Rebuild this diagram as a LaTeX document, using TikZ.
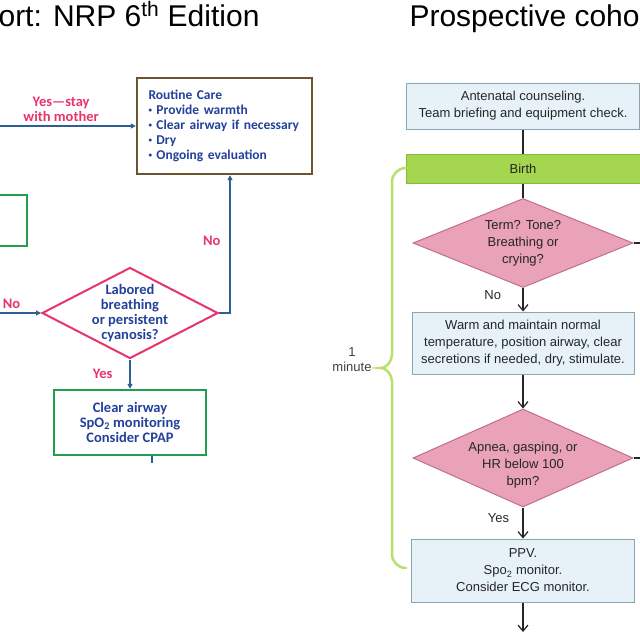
\documentclass[tikz,border=0pt]{standalone}
\usepackage{fontspec}
\setmainfont{Liberation Sans}
\newfontfamily\calibfont{Carlito}
\usetikzlibrary{shapes.geometric,arrows.meta}

\definecolor{nrpblue}{HTML}{23419A}
\definecolor{nrpstroke}{HTML}{2F5F91}
\definecolor{nrppink}{HTML}{E8336B}
\definecolor{nrpbrown}{HTML}{6B5430}
\definecolor{nrpgreen}{HTML}{1E9E4E}
\definecolor{boxfill}{HTML}{E6F2F7}
\definecolor{boxedge}{HTML}{8AA6B5}
\definecolor{birthfill}{HTML}{A5D64F}
\definecolor{birthedge}{HTML}{86B83A}
\definecolor{decfill}{HTML}{E9A2B8}
\definecolor{decedge}{HTML}{C0708A}
\definecolor{bracecol}{HTML}{B9E06A}

\newcommand{\nrpdot}{\raisebox{.25ex}{\fontsize{7}{7}\selectfont\textbullet}\ }

\begin{document}
\begin{tikzpicture}[x=1pt,y=-1pt,
  nrptxt/.style={font=\calibfont\bfseries\fontsize{14.5}{15}\selectfont,text=nrpblue,align=center},
  nrplbl/.style={font=\calibfont\bfseries\fontsize{14.5}{15}\selectfont,text=nrppink,align=center,inner sep=1pt},
  nrparrow/.style={draw=nrpstroke,line width=1.3pt,-{Triangle[length=5pt,width=5pt]}},
  nrpline/.style={draw=nrpstroke,line width=1.3pt},
  greenbox/.style={draw=nrpgreen,line width=2.4pt,nrptxt},
  nrpdec/.style={diamond,draw=nrppink,line width=2pt,inner sep=0pt},
  cohtxt/.style={font=\fontsize{13}{17}\selectfont,text=black!85,align=center},
  cohbox/.style={draw=boxedge,fill=boxfill,line width=1pt,cohtxt},
  cohdec/.style={diamond,draw=decedge,fill=decfill,line width=1pt,inner sep=0pt,minimum width=220pt},
  cohline/.style={draw=black!85,line width=1.2pt},
  cohto/.style={cohline,-{Straight Barb[length=6pt,width=10pt]}},
  minbrace/.style={draw=bracecol,line width=2.5pt,line cap=round}]
\fill[white] (0,0) rectangle (640,640);
\useasboundingbox (0,0) rectangle (640,640);

% titles
\node[anchor=base east,font=\fontsize{30}{36}\selectfont] (nrptitle) at (263,26) {ort: NRP 6\textsuperscript{th} Edition};
\node[anchor=base west,font=\fontsize{30}{36}\selectfont] (cohtitle) at (406,26) {Prospective coho};

% NRP 6th edition
\node[draw=nrpbrown,line width=2.4pt,minimum width=175pt,minimum height=96pt,nrptxt,font=\calibfont\bfseries\fontsize{13.5}{15}\selectfont,align=left,text width=152pt,inner xsep=11pt] (routine) at (224.5,126)
  {Routine Care\\\nrpdot Provide warmth\\\nrpdot Clear airway if necessary\\\nrpdot Dry\\\nrpdot Ongoing evaluation};
\node[greenbox,minimum width=94pt,minimum height=51pt] (resus) at (-20,220.5) {};
\node[nrpdec,minimum width=176pt,minimum height=91pt,
  label={[nrptxt]center:{Labored\\breathing\\or persistent\\cyanosis?}}] (labored) at (130,313) {};
\node[greenbox,minimum width=152pt,minimum height=65pt] (cpap) at (130,422.5)
  {Clear airway\\SpO\textsubscript{2} monitoring\\Consider CPAP};

\coordinate (yesin) at (0,126);
\coordinate (noin) at (0,313);
\coordinate (cpapout) at (152,463);

\draw[nrparrow] (yesin) -- node[nrplbl,above=3pt,pos=.45] {Yes—stay\\with mother} (routine.west);
\draw[nrparrow] (noin) -- node[nrplbl,above=3pt,pos=.28] {No} (labored.west);
\draw[nrparrow] (labored.east) -| node[nrplbl,pos=.76,left=8pt] {No} ([xshift=5.5pt]routine.south);
\draw[nrparrow] (labored.south) -- node[nrplbl,left=16pt] {Yes} (cpap.north);
\draw[nrpline] (cpap.south -| cpapout) -- (cpapout);

% prospective cohort
\node[cohbox,minimum width=233pt,minimum height=46pt] (antenatal) at (523,106)
  {Antenatal counseling.\\Team briefing and equipment check.};
\node[draw=birthedge,fill=birthfill,line width=1pt,cohtxt,minimum width=234pt,minimum height=29pt] (birth) at (523,168.5) {Birth};
\node[cohdec,minimum height=89pt,
  label={[cohtxt]center:{Term? Tone?\\Breathing or\\crying?}}] (term) at (523,243) {};
\node[cohbox,minimum width=222pt,minimum height=62pt] (warm) at (523,343)
  {Warm and maintain normal\\temperature, position airway, clear\\secretions if needed, dry, stimulate.};
\node[cohdec,minimum height=98pt,
  label={[cohtxt,yshift=-7pt]center:{Apnea, gasping, or\\HR below 100\\bpm?}}] (apnea) at (523,458) {};
\node[cohbox,minimum width=223pt,minimum height=63pt] (ppv) at (523,570.5)
  {PPV.\\Spo\textsubscript{2} monitor.\\Consider ECG monitor.};
\node[font=\fontsize{13}{15}\selectfont,text=black!75,align=center] (oneminute) at (352,360) {1\\minute};

\coordinate (nextstep) at (523,632);
\coordinate (termout) at (640,243);
\coordinate (apneaout) at (640,458);
\coordinate (bracetop) at (406,168);
\coordinate (bracetip) at (380,368);
\coordinate (bracebot) at (406,568);

\draw[cohline] (antenatal) -- (birth);
\draw[cohline] (birth) -- (term);
\draw[cohto] (term) -- node[cohtxt,left=18pt,pos=.3] {No} (warm);
\draw[cohto] (warm) -- (apnea);
\draw[cohto] (apnea) -- node[cohtxt,left=10pt,pos=.35] {Yes} (ppv);
\draw[cohto] (ppv) -- (nextstep);
\draw[cohline] (term.east) -- (termout);
\draw[cohline] (apnea.east) -- (apneaout);
\draw[minbrace] (bracetop) to[out=180,in=90] (392,182) -- (392,354)
  to[out=-90,in=0] (bracetip) to[out=0,in=90] (392,382) -- (392,554)
  to[out=-90,in=180] (bracebot);
\end{tikzpicture}
\end{document}
